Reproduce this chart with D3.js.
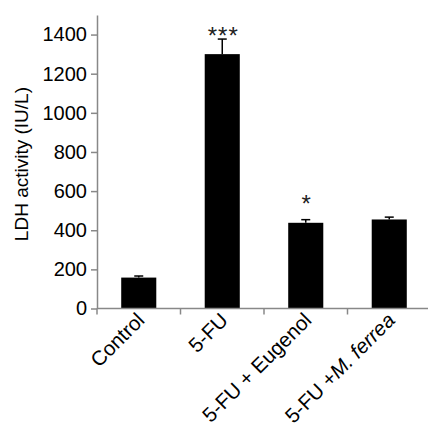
<!DOCTYPE html>
<html>
<head>
<meta charset="utf-8">
<script src="https://cdn.jsdelivr.net/npm/d3@7"></script>
<style>
  body { margin: 0; background: #fff; }
  text { font-family: "Liberation Sans", Arial, sans-serif; }
</style>
</head>
<body>
<div id="chart"></div>
<script>
  // data
  var groups = ['Control', '5-FU', '5-FU + Eugenol', '5-FU +M. ferrea'];
  var labelParts = [
    [['Control', 'normal']],
    [['5-FU', 'normal']],
    [['5-FU + Eugenol', 'normal']],
    [['5-FU +', 'normal'], ['M. ferrea', 'italic']]
  ];
  var means = [158, 1300, 438, 455];
  var errors = [8, 77, 16, 12];
  var marks = ['', '***', '*', ''];
  var markAt = [0, 1423, 561, 0];   // value level of the significance stars
  var yTicks = [0, 200, 400, 600, 800, 1000, 1200, 1400];

  var W = 428, H = 428;
  var margin = {top: 15, right: 0, bottom: 120, left: 97};
  var width = W - margin.left - margin.right + 3,
    height = H - margin.top - margin.bottom + 0.5;

  var svg = d3.select('#chart')
    .append('svg')
    .attr('width', W)
    .attr('height', H);

  var g = svg.append('g')
    .attr('transform', 'translate(' + margin.left + ',' + margin.top + ')');

  var x = d3.scaleBand()
    .domain(groups)
    .range([0, width])
    .paddingInner(0.58)
    .paddingOuter(0.29);

  var y = d3.scaleLinear()
    .domain([0, 1500])
    .range([height, 0]);

  // bars
  g.selectAll('.bar')
    .data(groups)
    .enter().append('rect')
    .attr('class', 'bar')
    .attr('x', function (d) { return x(d); })
    .attr('width', x.bandwidth())
    .attr('y', function (d, i) { return y(means[i]); })
    .attr('height', function (d, i) { return height - y(means[i]); })
    .attr('fill', '#000');

  // error bars (upper only)
  var cap = 9;
  var eb = g.selectAll('.err')
    .data(groups)
    .enter().append('g')
    .attr('class', 'err');
  eb.append('line')
    .attr('x1', function (d) { return x(d) + x.bandwidth() / 2; })
    .attr('x2', function (d) { return x(d) + x.bandwidth() / 2; })
    .attr('y1', function (d, i) { return y(means[i]); })
    .attr('y2', function (d, i) { return y(means[i] + errors[i]); })
    .attr('stroke', '#000')
    .attr('stroke-width', 1.5);
  eb.append('line')
    .attr('x1', function (d) { return x(d) + x.bandwidth() / 2 - cap / 2; })
    .attr('x2', function (d) { return x(d) + x.bandwidth() / 2 + cap / 2; })
    .attr('y1', function (d, i) { return y(means[i] + errors[i]); })
    .attr('y2', function (d, i) { return y(means[i] + errors[i]); })
    .attr('stroke', '#000')
    .attr('stroke-width', 1.5);

  // significance marks
  g.selectAll('.mark')
    .data(groups)
    .enter().append('text')
    .attr('class', 'mark')
    .attr('x', function (d) { return x(d) + x.bandwidth() / 2 + 1; })
    .attr('y', function (d, i) { return y(markAt[i]) + 13.5; })
    .attr('text-anchor', 'middle')
    .attr('font-size', 24)
    .attr('letter-spacing', 1)
    .attr('fill', '#222')
    .text(function (d, i) { return marks[i]; });

  // y axis
  var yAxis = g.append('g')
    .call(d3.axisLeft(y).tickValues(yTicks).tickFormat(d3.format('d'))
      .tickSize(6).tickPadding(4).tickSizeOuter(0));
  yAxis.select('.domain').attr('stroke', '#888').attr('stroke-width', 1.5);
  yAxis.selectAll('.tick line').attr('stroke', '#888').attr('stroke-width', 1.5);
  yAxis.selectAll('.tick text')
    .attr('font-size', 20)
    .attr('fill', '#000')
    .attr('font-family', '"Liberation Sans", Arial, sans-serif');

  // x axis with ticks between groups
  var step = x.step();
  var boundaries = d3.range(groups.length + 1).map(function (i) { return i * step; });
  var xa = g.append('g')
    .attr('transform', 'translate(0,' + height + ')');
  xa.append('line')
    .attr('x1', 0).attr('x2', width)
    .attr('stroke', '#888').attr('stroke-width', 1.5);
  xa.selectAll('.xt')
    .data(boundaries)
    .enter().append('line')
    .attr('x1', function (d) { return d; })
    .attr('x2', function (d) { return d; })
    .attr('y1', 0).attr('y2', 6)
    .attr('stroke', '#888').attr('stroke-width', 1.5);
  var xl = xa.selectAll('.xl')
    .data(groups)
    .enter().append('text')
    .attr('class', 'xl')
    .attr('transform', function (d) {
      return 'translate(' + (x(d) + x.bandwidth() / 2 + 7) + ',13) rotate(-45)';
    })
    .attr('text-anchor', 'end')
    .attr('font-size', 20.5)
    .attr('fill', '#000');
  xl.each(function (d, i) {
    var t = d3.select(this);
    labelParts[i].forEach(function (p) {
      t.append('tspan').attr('font-style', p[1]).text(p[0]);
    });
  });

  // y label
  svg.append('text')
    .attr('transform', 'translate(28,' + (margin.top + y(738)) + ') rotate(-90)')
    .attr('text-anchor', 'middle')
    .attr('font-size', 19)
    .attr('fill', '#000')
    .text('LDH activity (IU/L)');
</script>
</body>
</html>
